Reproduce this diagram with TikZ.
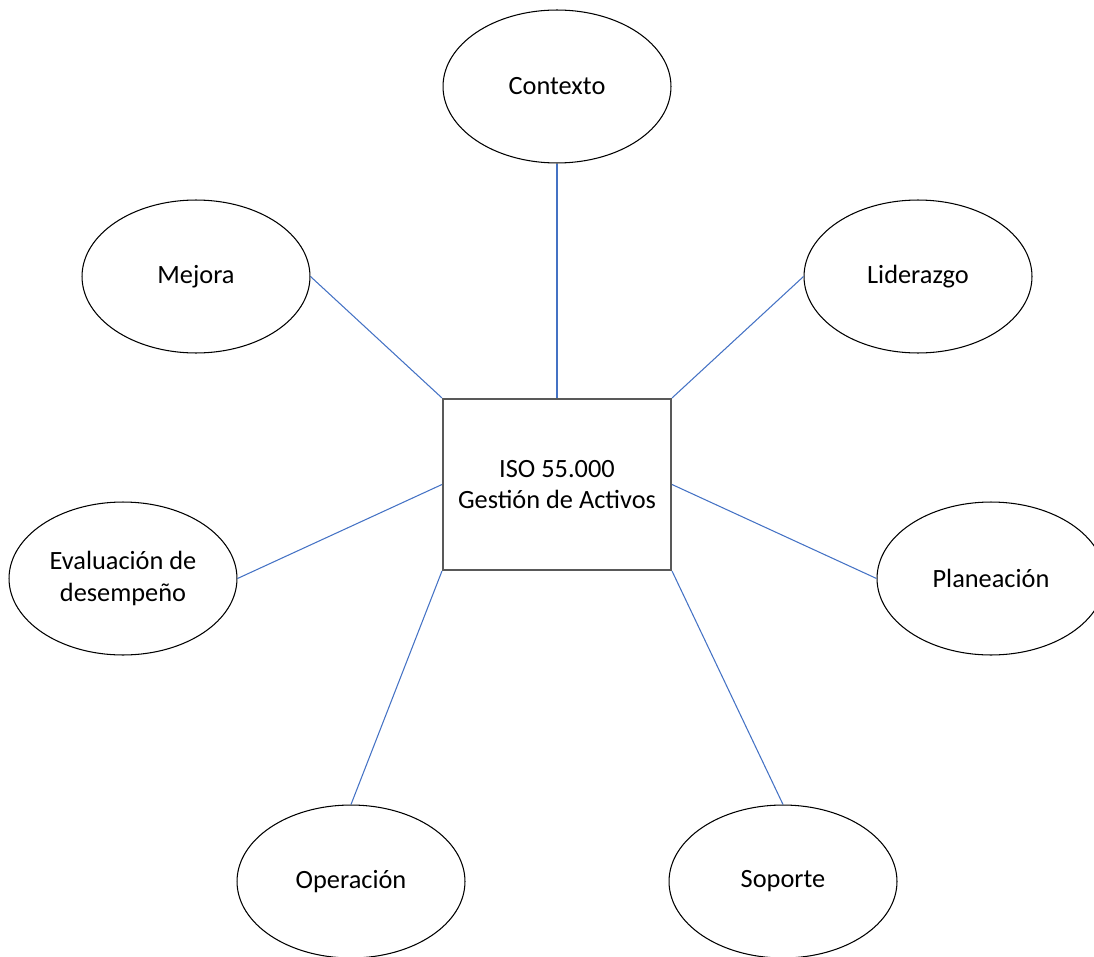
\documentclass[tikz,border=0pt]{standalone}
\usepackage{fontspec}
\setmainfont{Carlito}
\usetikzlibrary{shapes.geometric}
\definecolor{linkblue}{HTML}{4472C4}
\definecolor{boxgray}{HTML}{595959}
\tikzset{
  topic/.style={ellipse, draw=black, line width=0.6pt, fill=white,
    minimum width=4.56cm, minimum height=3.06cm, inner sep=0pt,
    font=\fontsize{15}{17.8}\selectfont, align=center},
  core/.style={rectangle, draw=boxgray, line width=1.2pt, fill=white,
    minimum width=4.56cm, minimum height=3.42cm, inner sep=0pt,
    font=\fontsize{15}{17.8}\selectfont, align=center},
  link/.style={draw=linkblue, line width=0.6pt}
}
\begin{document}
\begin{tikzpicture}[x=0.02cm, y=-0.02cm]
  \useasboundingbox (0,0) rectangle (1094,956);
  % central box
  \node[core] (box) at (557,484.5) {ISO 55.000\\Gestión de Activos};
  % surrounding topics
  \node[topic] (ctx) at (557,86.5) {Contexto};
  \node[topic] (mej) at (196,276.5) {Mejora};
  \node[topic] (lid) at (918,276.5) {Liderazgo};
  \node[topic] (eva) at (123,578.5) {Evaluación de\\desempeño};
  \node[topic] (pla) at (991,578.5) {Planeación};
  \node[topic] (ope) at (351,881.5) {Operación};
  \node[topic] (sop) at (783,881.5) {Soporte};
  % connectors
  \draw[link] (ctx.south) -- (box.north);
  \draw[link] (mej.east) -- (box.north west);
  \draw[link] (lid.west) -- (box.north east);
  \draw[link] (eva.east) -- (box.west);
  \draw[link] (pla.west) -- (box.east);
  \draw[link] (ope.north) -- (box.south west);
  \draw[link] (sop.north) -- (box.south east);
\end{tikzpicture}
\end{document}
